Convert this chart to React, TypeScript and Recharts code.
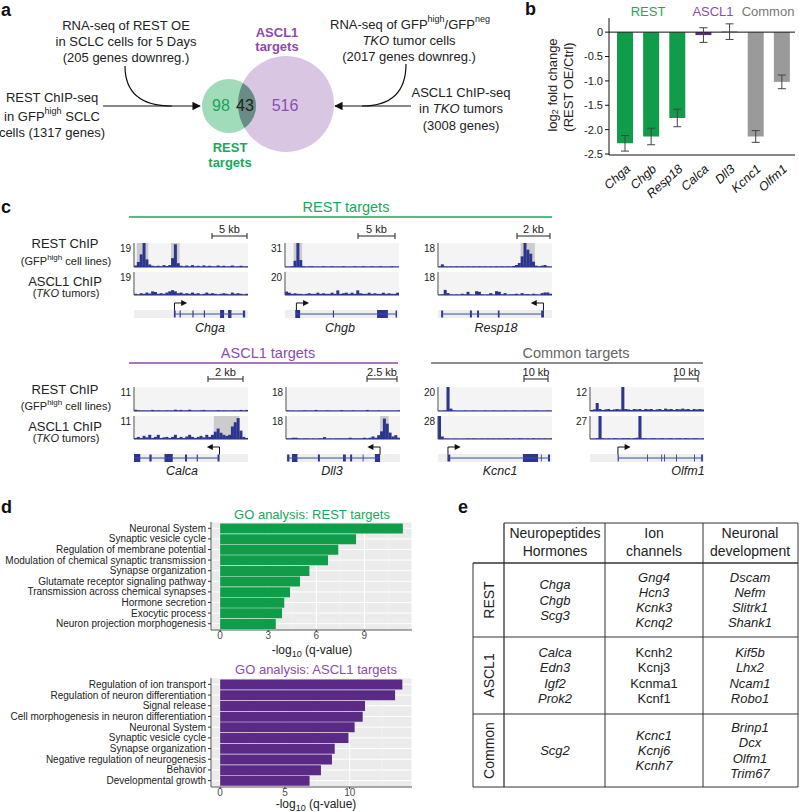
import React from 'react';
import {
  BarChart, Bar, XAxis, YAxis, Cell, ErrorBar, ReferenceLine, ReferenceArea,
  ReferenceDot, CartesianGrid, ComposedChart, ScatterChart, Scatter,
} from 'recharts';

const FONT = '"Liberation Sans", Arial, Helvetica, sans-serif';

// ---------------- Panel a (Venn) ----------------
const vennNames = ['ASCL1', 'REST'];
const vennCircleX = [286, 229];
const vennCircleY = [104, 106];
const vennRadius = [48, 27];
const vennCounts = [98, 43, 516]; // REST only, shared, ASCL1 only

// ---------------- Panel b ----------------
const bGenes = ['Chga', 'Chgb', 'Resp18', 'Calca', 'Dll3', 'Kcnc1', 'Olfm1'];
const bLog2FC = [-2.28, -2.14, -1.76, -0.06, 0.01, -2.14, -1.02];
const bError = [0.16, 0.17, 0.18, 0.15, 0.16, 0.12, 0.14];
const bGroup = ['REST', 'REST', 'REST', 'ASCL1', 'ASCL1', 'Common', 'Common'];
const bTicks = [0, -0.5, -1, -1.5, -2, -2.5];
const bGroupLabels = ['REST', 'ASCL1', 'Common'];

// ---------------- Panel c (tracks, 40 bins each) ----------------
const cGenes = ['Chga', 'Chgb', 'Resp18', 'Calca', 'Dll3', 'Kcnc1', 'Olfm1'];
const cRestMax = [19, 31, 18, 11, 18, 20, 12];
const cAsclMax = [19, 20, 18, 11, 18, 28, 27];
const cScaleLabels = ['5 kb', '5 kb', '2 kb', '2 kb', '2.5 kb', '10 kb', '10 kb'];

const chgaREST = [1.2, 4, 10, 19, 6, 2, 1, 0.6, 1, 0.5, 1.5, 0.8, 1.5, 7, 18, 3, 1, 0.5, 1.2, 0.5, 1.5, 0.5, 1, 0.4, 1.3, 0.5, 1, 0.5, 0.4, 1.2, 0.5, 1, 0.4, 0.5, 1.2, 0.4, 0.5, 1, 0.4, 0.5];
const chgaASCL1 = [1, 0.5, 1.5, 1, 2, 1.2, 3, 2.5, 1, 1.5, 1, 2, 3, 4, 3, 1.5, 2, 1, 1.5, 1, 2, 1, 1.5, 0.5, 1, 2, 1, 1.5, 1, 0.5, 1, 1.5, 1, 0.5, 2, 1, 1.5, 1, 0.5, 1];
const chgbREST = [0.5, 0.5, 1, 8, 31, 9, 1, 0.5, 0.8, 1, 0.5, 0.6, 0.5, 1, 0.5, 0.5, 1, 0.5, 0.6, 0.5, 1, 0.5, 0.5, 0.5, 1, 0.5, 0.5, 1, 0.5, 0.5, 1, 0.5, 0.5, 1, 0.5, 0.5, 0.5, 1, 0.5, 0.5];
const chgbASCL1 = [3, 2, 1, 1.5, 1, 1, 0.5, 1, 1.5, 1, 1, 2, 1, 1.5, 1, 1, 2, 1, 4, 1, 1.5, 2, 1, 2, 1, 4, 1.5, 1, 1, 2, 1, 1.5, 1, 1, 2, 1, 1.5, 1, 1, 2];
const resp18REST = [0.5, 2, 0.5, 0.3, 0.5, 0.3, 0.5, 0.3, 0.5, 0.3, 0.5, 0.3, 0.5, 0.3, 0.5, 0.3, 0.5, 0.3, 0.5, 0.3, 0.5, 0.3, 0.5, 0.3, 0.5, 0.3, 0.8, 1.5, 3, 8, 18, 13, 10, 4, 1, 0.5, 1, 1.5, 0.5, 0.3];
const resp18ASCL1 = [0.3, 0.5, 4, 1.5, 0.5, 0.3, 0.5, 0.3, 1, 0.5, 2.5, 0.5, 0.3, 3, 2.5, 0.5, 0.3, 0.5, 1.5, 0.3, 3, 2.5, 0.5, 1.5, 0.3, 0.5, 0.5, 1, 0.3, 1.5, 0.5, 0.8, 0.3, 1, 0.5, 0.3, 1.5, 2, 2, 1];
const calcaREST = [0.6, 0.3, 0.2, 0.2, 0.2, 0.2, 0.5, 0.2, 0.3, 0.2, 0.2, 0.3, 0.2, 0.2, 0.6, 0.3, 0.5, 0.2, 0.3, 0.6, 0.2, 0.2, 0.2, 0.3, 0.5, 0.2, 0.2, 0.2, 0.2, 0.4, 0.2, 0.3, 0.2, 0.2, 0.2, 0.3, 0.2, 0.5, 0.2, 0.5];
const calcaASCL1 = [0.5, 1, 0.5, 1.5, 0.8, 2, 0.5, 1, 2, 0.5, 0.8, 1, 0.5, 1, 2, 0.5, 1, 0.5, 1.2, 2, 1, 0.5, 1, 1.5, 0.8, 2, 1, 2, 3.5, 5, 3, 2, 1.5, 2, 6, 8, 10, 4, 1, 0.5];
const dll3REST = [0.5, 0.3, 0.3, 0.2, 0.3, 0.3, 0.5, 0.3, 0.3, 0.3, 0.8, 0.3, 0.3, 0.3, 0.5, 0.3, 0.3, 0.3, 0.3, 0.7, 0.3, 0.3, 0.3, 0.5, 0.3, 0.3, 0.3, 0.3, 0.8, 0.3, 0.3, 0.3, 0.5, 0.3, 0.3, 0.3, 0.3, 0.3, 0.3, 0.5];
const dll3ASCL1 = [0.5, 0.5, 1, 1, 0.5, 0.3, 0.5, 0.5, 0.3, 0.5, 0.3, 0.5, 0.5, 1.5, 0.3, 0.5, 0.3, 0.5, 0.5, 0.5, 0.5, 0.5, 1, 0.5, 0.5, 0.5, 0.5, 1, 0.5, 1, 2, 1, 3, 6, 16, 12, 5, 2, 3, 1];
const kcnc1REST = [0.3, 0.3, 0.5, 20, 2, 0.5, 0.3, 0.3, 0.3, 0.5, 0.3, 0.3, 0.5, 0.3, 0.3, 0.3, 0.5, 0.3, 0.3, 0.5, 0.3, 0.3, 0.3, 0.5, 0.3, 0.3, 0.5, 0.3, 0.3, 0.3, 0.5, 0.3, 0.3, 0.3, 0.5, 0.3, 0.3, 0.3, 0.5, 0.3];
const kcnc1ASCL1 = [28, 3, 0.5, 0.5, 0.3, 0.5, 0.5, 0.3, 0.5, 0.5, 0.8, 0.5, 0.8, 0.5, 0.5, 0.8, 0.5, 0.8, 0.5, 0.8, 0.5, 0.8, 0.5, 0.8, 1, 0.5, 0.8, 0.5, 1, 0.8, 0.5, 0.8, 0.5, 1, 0.5, 0.8, 0.5, 0.8, 0.5, 0.8];
const olfm1REST = [0.5, 0.8, 4, 1, 0.5, 0.8, 1, 0.5, 0.8, 1, 0.8, 12, 1, 0.8, 0.5, 1, 0.8, 1, 0.5, 1, 0.8, 1, 0.5, 0.8, 1, 0.5, 1.2, 0.8, 1, 0.5, 1, 0.8, 1.2, 0.8, 1, 0.5, 1, 0.8, 1, 0.8];
const olfm1ASCL1 = [0.5, 0.5, 1, 27, 1, 0.5, 0.8, 0.5, 1, 0.8, 0.5, 1, 0.8, 1, 0.5, 1, 1.5, 27, 1, 0.8, 0.5, 0.8, 1, 0.5, 0.8, 1, 0.5, 0.8, 1, 0.5, 0.8, 1, 0.5, 1, 0.8, 0.5, 1, 0.8, 0.5, 0.8];

const cRestTracks = [chgaREST, chgbREST, resp18REST, calcaREST, dll3REST, kcnc1REST, olfm1REST];
const cAsclTracks = [chgaASCL1, chgbASCL1, resp18ASCL1, calcaASCL1, dll3ASCL1, kcnc1ASCL1, olfm1ASCL1];
const cRestPeaks = [[[1, 4], [13, 15]], [[3, 5]], [[29, 33]], [], [], [[3, 3]], [[11, 11]]];
const cAsclPeaks = [[], [], [], [[28, 36]], [[33, 35]], [[0, 0]], [[3, 3], [17, 17]]];

// gene models (same 0-40 coordinate as tracks)
const cTx = [[14.2, 39], [4, 39.3], [1.4, 37], [0, 30], [0.4, 33], [3.5, 39.3], [9.8, 39.6]];
const cStrand = [1, 1, -1, -1, -1, 1, 1];
const cExons = [
  [[14, 14.6], [16, 16.4], [20.5, 20.9], [24.5, 24.9], [30.2, 31.6], [33, 34.2], [38.2, 39]],
  [[3.6, 5.3], [16.8, 17.2], [32.3, 36.1], [38.8, 39.3]],
  [[1.1, 1.8], [11.2, 11.9], [13.7, 14.4], [21, 21.6], [36.2, 37.2]],
  [[0, 2.2], [5.4, 6.2], [10.7, 13.6], [17.9, 18.6], [22, 22.4], [29.3, 30]],
  [[0.4, 1.2], [2.1, 4], [11.2, 11.9], [20, 21], [22.5, 23.2], [26.9, 27.2], [31.2, 33]],
  [[3.3, 4.3], [29.8, 35.1], [36.1, 36.4], [38.6, 39.3]],
  [[9.7, 10.1], [20, 20.3], [25, 25.3], [26, 26.3], [30.2, 30.5], [36.5, 36.8], [39, 39.6]],
];

// ---------------- Panel d ----------------
const goRestTerms = ['Neuronal System', 'Synaptic vesicle cycle', 'Regulation of membrane potential', 'Modulation of chemical synaptic transmission', 'Synapse organization', 'Glutamate receptor signaling pathway', 'Transmission across chemical synapses', 'Hormone secretion', 'Exocytic process', 'Neuron projection morphogenesis'];
const goRestValues = [11.4, 8.48, 7.37, 6.73, 5.57, 4.98, 4.36, 4.0, 3.86, 3.47];
const goRestTicks = [0, 3, 6, 9];
const goAsclTerms = ['Regulation of ion transport', 'Regulation of neuron differentiation', 'Signal release', 'Cell morphogenesis in neuron differentiation', 'Neuronal System', 'Synaptic vesicle cycle', 'Synapse organization', 'Negative regulation of neurogenesis', 'Behavior', 'Developmental growth'];
const goAsclValues = [14.06, 13.5, 11.18, 11.0, 10.38, 9.9, 8.84, 8.63, 7.78, 6.9];
const goAsclTicks = [0, 5, 10];

// ---------------- Panel e ----------------
const eRows = ['REST', 'ASCL1', 'Common'];
const eCols = [['Neuropeptides', 'Hormones'], ['Ion', 'channels'], ['Neuronal', 'development']];
const eCells = [
  [['Chga', 'Chgb', 'Scg3'], ['Gng4', 'Hcn3', 'Kcnk3', 'Kcnq2'], ['Dscam', 'Nefm', 'Slitrk1', 'Shank1']],
  [['Calca', 'Edn3', 'Igf2', 'Prok2'], ['Kcnh2', 'Kcnj3', 'Kcnma1', 'Kcnf1'], ['Kif5b', 'Lhx2', 'Ncam1', 'Robo1']],
  [['Scg2'], ['Kcnc1', 'Kcnj6', 'Kcnh7'], ['Brinp1', 'Dcx', 'Olfm1', 'Trim67']],
];
const eItalic = [[true, true, true], [true, false, true], [true, true, true]];

// ---------------- styles ----------------
const GREEN = '#0f9d4a';
const GREEN_TXT = '#1aa85a';
const PURPLE = '#5b2a86';
const PURPLE_TXT = '#8c4bad';
const GRAYBAR = '#9a9a9a';
const TRACK_BLUE = '#2b3590';
const groupColor: any = { REST: GREEN, ASCL1: PURPLE, Common: GRAYBAR };
const groupTextColor: any = { REST: GREEN_TXT, ASCL1: PURPLE_TXT, Common: '#777' };

function Txt({ x, y, children, size = 13, fill = '#222', anchor = 'middle', weight, italic, rotate }: any) {
  return (
    <text x={x} y={y} fontSize={size} fill={fill} textAnchor={anchor} dominantBaseline="central"
      fontWeight={weight} fontStyle={italic ? 'italic' : undefined}
      transform={rotate ? `rotate(${rotate} ${x} ${y})` : undefined}>{children}</text>
  );
}

// ---------- Venn ----------
function Venn() {
  const purple = [{ x: vennCircleX[0], y: vennCircleY[0], r: vennRadius[0] }];
  const green = [{ x: vennCircleX[1], y: vennCircleY[1], r: vennRadius[1] }];
  const lens = [{ x: vennCircleX[1], y: vennCircleY[1], r: vennRadius[1], ox: vennCircleX[0], oy: vennCircleY[0], or: vennRadius[0] }];
  const circ = (fill: string) => (p: any) => <circle cx={p.cx} cy={p.cy} r={p.payload.r} fill={fill} />;
  const lensShape = (p: any) => {
    const d = p.payload;
    return (
      <g>
        <defs>
          <clipPath id="vennLensClip"><circle cx={p.cx + (d.ox - d.x)} cy={p.cy + (d.oy - d.y)} r={d.or} /></clipPath>
        </defs>
        <circle cx={p.cx} cy={p.cy} r={d.r} fill="#6a8b86" clipPath="url(#vennLensClip)" />
      </g>
    );
  };
  return (
    <div style={{ position: 'absolute', left: 180, top: 50 }}>
      <ScatterChart width={160} height={110} margin={{ top: 0, right: 0, bottom: 0, left: 0 }}>
        <XAxis type="number" dataKey="x" domain={[180, 340]} hide />
        <YAxis type="number" dataKey="y" domain={[50, 160]} reversed hide />
        <Scatter name={vennNames[0]} data={purple} shape={circ('#d9c6e3')} isAnimationActive={false} />
        <Scatter name={vennNames[1]} data={green} shape={circ('#a0dcba')} isAnimationActive={false} />
        <Scatter data={lens} shape={lensShape} isAnimationActive={false} />
      </ScatterChart>
    </div>
  );
}

// ---------- Panel b ----------
const GeneTick = (props: any) => {
  const { x, y, payload } = props;
  const ax = x + 6, ay = y + 15;
  return (
    <text x={ax} y={ay} textAnchor="end" fontSize={12.5} fontStyle="italic" fill="#111"
      transform={`rotate(-42 ${ax} ${ay})`}>{payload.value}</text>
  );
};

function PanelB() {
  const data = bGenes.map((g, i) => ({ gene: g, v: bLog2FC[i], err: bError[i], grp: bGroup[i] }));
  const fmt = (v: number) => (v === 0 ? '0' : v.toFixed(1));
  return (
    <div style={{ position: 'absolute', left: 540, top: 0 }}>
      <BarChart width={259} height={200} data={data} margin={{ top: 18, right: 4, bottom: 0, left: 0 }}>
        <XAxis dataKey="gene" type="category" height={45} tickSize={0} tickMargin={0} tickLine={false}
          axisLine={{ stroke: '#111' }} tick={<GeneTick />} interval={0} padding={{ left: 3, right: 0 }} />
        <YAxis type="number" domain={[-2.52, 0.29]} allowDataOverflow ticks={bTicks} width={69}
          tickSize={4} tickLine={{ stroke: '#111' }} axisLine={{ stroke: '#111' }}
          tick={{ fontSize: 11, fill: '#222' }} tickFormatter={fmt} />
        <ReferenceLine y={0} stroke="#111" />
        <Bar dataKey="v" barSize={16} isAnimationActive={false}>
          {data.map((d, i) => <Cell key={i} fill={groupColor[d.grp]} />)}
          <ErrorBar dataKey="err" width={4} stroke="#444" strokeWidth={1} direction="y" isAnimationActive={false} />
        </Bar>
      </BarChart>
    </div>
  );
}

// ---------- Panel c ----------
function Coverage({ left, top, height, values, max, peaks }: any) {
  const data = values.map((v: number, i: number) => ({ i, v }));
  return (
    <div style={{ position: 'absolute', left: left - 1, top, width: 115, height, background: '#f4f4f4' }}>
      <BarChart width={115} height={height} data={data} margin={{ top: 0, right: 0, bottom: 0, left: 0 }} barCategoryGap={0} barGap={0}>
        <XAxis dataKey="i" type="category" tick={false} tickLine={false} axisLine={{ stroke: TRACK_BLUE }} height={1} />
        <YAxis type="number" domain={[0, max]} allowDataOverflow tick={false} tickLine={false} axisLine={{ stroke: '#555' }} width={1} />
        {peaks.map((p: number[], k: number) => (
          <ReferenceArea key={k} x1={p[0]} x2={p[1]} fill="#c4c4c4" fillOpacity={0.85} stroke="none" />
        ))}
        <Bar dataKey="v" fill={TRACK_BLUE} isAnimationActive={false} />
      </BarChart>
    </div>
  );
}

function GeneModel({ left, top, tx, exons, strand }: any) {
  const data = exons.map((e: number[]) => ({ s: e[0], e: e[1] }));
  const tss = strand > 0 ? tx[0] : tx[1];
  const tip = tss + strand * 3.4;
  const head = (p: any) => {
    const d = strand > 0
      ? `M${p.cx + 3},${p.cy} L${p.cx - 3},${p.cy - 3} L${p.cx - 3},${p.cy + 3} Z`
      : `M${p.cx - 3},${p.cy} L${p.cx + 3},${p.cy - 3} L${p.cx + 3},${p.cy + 3} Z`;
    return <path d={d} fill="#111" />;
  };
  return (
    <div style={{ position: 'absolute', left, top }}>
      <ComposedChart width={114} height={20} data={data} margin={{ top: 0, right: 0, bottom: 0, left: 0 }}>
        <XAxis type="number" dataKey="s" domain={[0, 40]} hide allowDataOverflow />
        <YAxis type="number" domain={[0, 20]} hide allowDataOverflow />
        <ReferenceArea x1={0} x2={40} y1={2} y2={10} fill="#efefef" fillOpacity={1} stroke="none" />
        <ReferenceLine segment={[{ x: tx[0], y: 6 }, { x: tx[1], y: 6 }]} stroke="#3b49b3" strokeWidth={1} />
        {exons.map((e: number[], k: number) => {
          const big = e[1] - e[0] > 1.2;
          return <ReferenceArea key={k} x1={e[0]} x2={e[1]} y1={big ? 2 : 2.5} y2={big ? 10 : 9.5} fill={TRACK_BLUE} fillOpacity={1} stroke="none" />;
        })}
        <ReferenceLine segment={[{ x: tss, y: 9.5 }, { x: tss, y: 17 }]} stroke="#111" strokeWidth={1} />
        <ReferenceLine segment={[{ x: tss, y: 17 }, { x: tip, y: 17 }]} stroke="#111" strokeWidth={1} />
        <ReferenceDot x={tip} y={17} r={3} shape={head} />
      </ComposedChart>
    </div>
  );
}

// ---------- Panel d ----------
const TermTick = (p: any) => (
  <text x={p.x} y={p.y} textAnchor="end" dominantBaseline="central" fontSize={10} fill="#222">{p.payload.value}</text>
);

function GoChart({ top, plotH, terms, values, domain, ticks, minor, color }: any) {
  const data = terms.map((t: string, i: number) => ({ term: t, v: values[i] }));
  return (
    <div style={{ position: 'absolute', left: 0, top }}>
      <BarChart layout="vertical" width={420} height={plotH + 20} data={data}
        margin={{ top: 0, right: 8, bottom: 0, left: 0 }} barCategoryGap="5%">
        <CartesianGrid fill="#ebebeb" fillOpacity={1} stroke="#ffffff" strokeWidth={1} />
        <CartesianGrid horizontal={false} verticalValues={minor} stroke="#f7f7f7" strokeWidth={0.5} />
        <XAxis type="number" domain={domain} allowDataOverflow ticks={ticks} height={20} tickSize={2} tickMargin={0}
          tickLine={{ stroke: '#333' }} axisLine={{ stroke: '#555' }} tick={{ fontSize: 10, fill: '#4d4d4d' }} />
        <YAxis type="category" dataKey="term" width={211} interval={0} tickSize={3}
          tickLine={{ stroke: '#333' }} axisLine={{ stroke: '#555' }} tick={<TermTick />}
          padding={{ top: 1, bottom: 1 }} />
        <Bar dataKey="v" fill={color} isAnimationActive={false} />
      </BarChart>
    </div>
  );
}

function ScaleBar({ x1, x2, y, label }: any) {
  return (
    <g stroke="#222" strokeWidth={1}>
      <line x1={x1} x2={x2} y1={y} y2={y} />
      <line x1={x1} x2={x1} y1={y - 3} y2={y + 3} />
      <line x1={x2} x2={x2} y1={y - 3} y2={y + 3} />
      <text x={(x1 + x2) / 2} y={y - 7} fontSize={11} fill="#222" stroke="none" textAnchor="middle" dominantBaseline="central">{label}</text>
    </g>
  );
}

export default function App() {
  // panel c layout
  const trackLefts = [134, 285, 438, 134, 286, 438, 590];
  const restTops = [243, 243, 243, 387, 387, 387, 387];
  const asclTops = [272, 272, 272, 416, 416, 416, 416];
  const geneTops = [300, 300, 300, 444, 444, 444, 444];
  const labelYs = [328, 328, 328, 471, 471, 471, 471];
  const labelXs = [210, 340, 496, 182, 332, 500, 688];
  const scaleX = [[212, 247], [358, 395], [517, 550], [208, 243], [367, 397], [524, 548], [675, 698]];
  const scaleY = [236, 236, 236, 379, 379, 379, 379];

  const cellLineGap = 15.3;
  const colX = [555, 654, 750];
  const rowY = [600, 675.5, 750.5];

  return (
    <div style={{ position: 'absolute', left: 0, top: 0, width: 799, height: 812, background: '#fff', overflow: 'hidden', fontFamily: FONT }}>
      <Venn />
      <PanelB />
      {cGenes.map((g, i) => (
        <React.Fragment key={g}>
          <Coverage left={trackLefts[i]} top={restTops[i]} height={25} values={cRestTracks[i]} max={cRestMax[i]} peaks={cRestPeaks[i]} />
          <Coverage left={trackLefts[i]} top={asclTops[i]} height={24} values={cAsclTracks[i]} max={cAsclMax[i]} peaks={cAsclPeaks[i]} />
          <GeneModel left={trackLefts[i]} top={geneTops[i]} tx={cTx[i]} exons={cExons[i]} strand={cStrand[i]} />
        </React.Fragment>
      ))}
      <GoChart top={522} plotH={108} terms={goRestTerms} values={goRestValues} domain={[-0.57, 11.97]}
        ticks={goRestTicks} minor={[1.5, 4.5, 7.5, 10.5]} color={GREEN} />
      <GoChart top={677.5} plotH={109} terms={goAsclTerms} values={goAsclValues} domain={[-0.705, 14.805]}
        ticks={goAsclTicks} minor={[2.5, 7.5, 12.5]} color={PURPLE} />

      <svg style={{ position: 'absolute', left: 0, top: 0, pointerEvents: 'none' }} width={799} height={812}>
        <defs>
          <marker id="arrowHead" viewBox="0 0 10 10" refX="9" refY="5" markerWidth="7" markerHeight="7" orient="auto-start-reverse">
            <path d="M0,0 L10,5 L0,10 z" fill="#111" />
          </marker>
        </defs>

        {/* ---------- panel a ---------- */}
        <Txt x={1} y={10} size={18} weight="bold" anchor="start" fill="#111">a</Txt>
        <Txt x={126} y={25}>RNA-seq of REST OE</Txt>
        <Txt x={126} y={41}>in SCLC cells for 5 Days</Txt>
        <Txt x={126} y={57}>(205 genes downreg.)</Txt>
        <Txt x={52} y={97}>REST ChIP-seq</Txt>
        <text x={52} y={116} fontSize={13} fill="#222" textAnchor="middle" dominantBaseline="central">
          in GFP<tspan fontSize={9} dy={-5}>high</tspan><tspan dy={5}> SCLC</tspan>
        </text>
        <Txt x={52} y={132}>cells (1317 genes)</Txt>
        <text x={410} y={24} fontSize={13} fill="#222" textAnchor="middle" dominantBaseline="central">
          RNA-seq of GFP<tspan fontSize={9} dy={-5}>high</tspan><tspan dy={5}>/GFP</tspan><tspan fontSize={9} dy={-5}>neg</tspan>
        </text>
        <text x={409} y={40} fontSize={13} fill="#222" textAnchor="middle" dominantBaseline="central">
          <tspan fontStyle="italic">TKO</tspan> tumor cells
        </text>
        <Txt x={409} y={56}>(2017 genes downreg.)</Txt>
        <Txt x={461} y={92}>ASCL1 ChIP-seq</Txt>
        <text x={461} y={108} fontSize={13} fill="#222" textAnchor="middle" dominantBaseline="central">
          in <tspan fontStyle="italic">TKO</tspan> tumors
        </text>
        <Txt x={461} y={125}>(3008 genes)</Txt>

        <g fill="none" stroke="#111" strokeWidth={1.2}>
          <path d="M103,106 L200,106" markerEnd="url(#arrowHead)" />
          <path d="M125,66 C125,92 140,106 172,106" />
          <path d="M411,106 L335,106" markerEnd="url(#arrowHead)" />
          <path d="M406,64 C406,92 392,106 362,106" />
        </g>

        <Txt x={221} y={105} size={16} fill="#1ba35a">{vennCounts[0]}</Txt>
        <Txt x={245} y={105} size={16} fill="#222">{vennCounts[1]}</Txt>
        <Txt x={285} y={105} size={16} fill="#8a4fb0">{vennCounts[2]}</Txt>
        <Txt x={277} y={32} size={13} weight="bold" fill={PURPLE_TXT}>ASCL1</Txt>
        <Txt x={277} y={46} size={13} weight="bold" fill={PURPLE_TXT}>targets</Txt>
        <Txt x={230} y={147} size={13} weight="bold" fill={GREEN_TXT}>REST</Txt>
        <Txt x={230} y={162} size={13} weight="bold" fill={GREEN_TXT}>targets</Txt>

        {/* ---------- panel b ---------- */}
        <Txt x={525} y={9} size={18} weight="bold" anchor="start" fill="#111">b</Txt>
        <Txt x={648} y={11} fill={groupTextColor[bGroupLabels[0]]}>{bGroupLabels[0]}</Txt>
        <Txt x={713} y={11} fill={groupTextColor[bGroupLabels[1]]}>{bGroupLabels[1]}</Txt>
        <Txt x={768} y={11} fill={groupTextColor[bGroupLabels[2]]}>{bGroupLabels[2]}</Txt>
        <text x={552} y={85} fontSize={13} fill="#222" textAnchor="middle" dominantBaseline="central" transform="rotate(-90 552 85)">
          log<tspan fontSize={9} dy={3}>2</tspan><tspan dy={-3}> fold change</tspan>
        </text>
        <Txt x={568} y={87} rotate={-90}>(REST OE/Ctrl)</Txt>

        {/* ---------- panel c ---------- */}
        <Txt x={1} y={207} size={18} weight="bold" anchor="start" fill="#111">c</Txt>
        <Txt x={346} y={207} size={14.5} fill={GREEN_TXT}>REST targets</Txt>
        <line x1={129} x2={552} y1={217} y2={217} stroke={GREEN_TXT} strokeWidth={1.5} />
        <Txt x={268} y={353} size={14.5} fill={PURPLE_TXT}>ASCL1 targets</Txt>
        <line x1={129} x2={398} y1={363} y2={363} stroke={PURPLE_TXT} strokeWidth={1.5} />
        <Txt x={576} y={353} size={14.5} fill="#666">Common targets</Txt>
        <line x1={431} x2={703} y1={363} y2={363} stroke="#666" strokeWidth={1.5} />

        {[[243, 261, 281, 293], [389, 406, 426, 438]].map((ys, k) => (
          <g key={k}>
            <Txt x={65} y={ys[0]} size={13}>REST ChIP</Txt>
            <text x={66} y={ys[1]} fontSize={11} fill="#222" textAnchor="middle" dominantBaseline="central">
              (GFP<tspan fontSize={8} dy={-4}>high</tspan><tspan dy={4}> cell lines)</tspan>
            </text>
            <Txt x={65} y={ys[2]} size={13}>ASCL1 ChIP</Txt>
            <text x={66} y={ys[3]} fontSize={11} fill="#222" textAnchor="middle" dominantBaseline="central">
              (<tspan fontStyle="italic">TKO</tspan> tumors)
            </text>
          </g>
        ))}

        {cGenes.map((g, i) => (
          <g key={g}>
            <Txt x={trackLefts[i] - 3} y={restTops[i] + 5} size={10} anchor="end">{cRestMax[i]}</Txt>
            <Txt x={trackLefts[i] - 3} y={asclTops[i] + 5} size={10} anchor="end">{cAsclMax[i]}</Txt>
            <ScaleBar x1={scaleX[i][0]} x2={scaleX[i][1]} y={scaleY[i]} label={cScaleLabels[i]} />
            <Txt x={labelXs[i]} y={labelYs[i]} size={12.5} italic>{g}</Txt>
          </g>
        ))}

        {/* ---------- panel d ---------- */}
        <Txt x={1} y={507} size={18} weight="bold" anchor="start" fill="#111">d</Txt>
        <Txt x={312} y={514} size={13} fill={GREEN_TXT}>GO analysis: REST targets</Txt>
        <Txt x={316} y={669} size={13} fill={PURPLE_TXT}>GO analysis: ASCL1 targets</Txt>
        {[[312, 650], [316, 804]].map((p, k) => (
          <text key={k} x={p[0]} y={p[1]} fontSize={12} fill="#222" textAnchor="middle" dominantBaseline="central">
            -log<tspan fontSize={9} dy={4}>10</tspan><tspan dy={-4}> (q-value)</tspan>
          </text>
        ))}

        {/* ---------- panel e ---------- */}
        <Txt x={458} y={507} size={18} weight="bold" anchor="start" fill="#111">e</Txt>
        <g stroke="#333" strokeWidth={1}>
          <line x1={473} x2={473} y1={563} y2={787} />
          <line x1={504} x2={504} y1={523} y2={787} strokeWidth={1.3} />
          <line x1={605} x2={605} y1={523} y2={787} />
          <line x1={703} x2={703} y1={523} y2={787} />
          <line x1={798} x2={798} y1={523} y2={787} />
          <line x1={504} x2={798} y1={523} y2={523} />
          <line x1={473} x2={798} y1={563} y2={563} strokeWidth={1.3} />
          <line x1={473} x2={798} y1={637} y2={637} />
          <line x1={473} x2={798} y1={714} y2={714} />
          <line x1={473} x2={798} y1={787} y2={787} />
        </g>
        {eCols.map((c, j) => (
          <g key={j}>
            <Txt x={colX[j]} y={533} size={14}>{c[0]}</Txt>
            <Txt x={colX[j]} y={551} size={14}>{c[1]}</Txt>
          </g>
        ))}
        {eRows.map((r, i) => (
          <g key={r}>
            <Txt x={489} y={rowY[i]} size={14} rotate={-90}>{r}</Txt>
            {eCells[i].map((cell, j) => cell.map((gname, k) => (
              <Txt key={`${j}-${k}`} x={colX[j]} y={rowY[i] + (k - (cell.length - 1) / 2) * cellLineGap}
                size={13} italic={eItalic[i][j]}>{gname}</Txt>
            )))}
          </g>
        ))}
      </svg>
    </div>
  );
}
